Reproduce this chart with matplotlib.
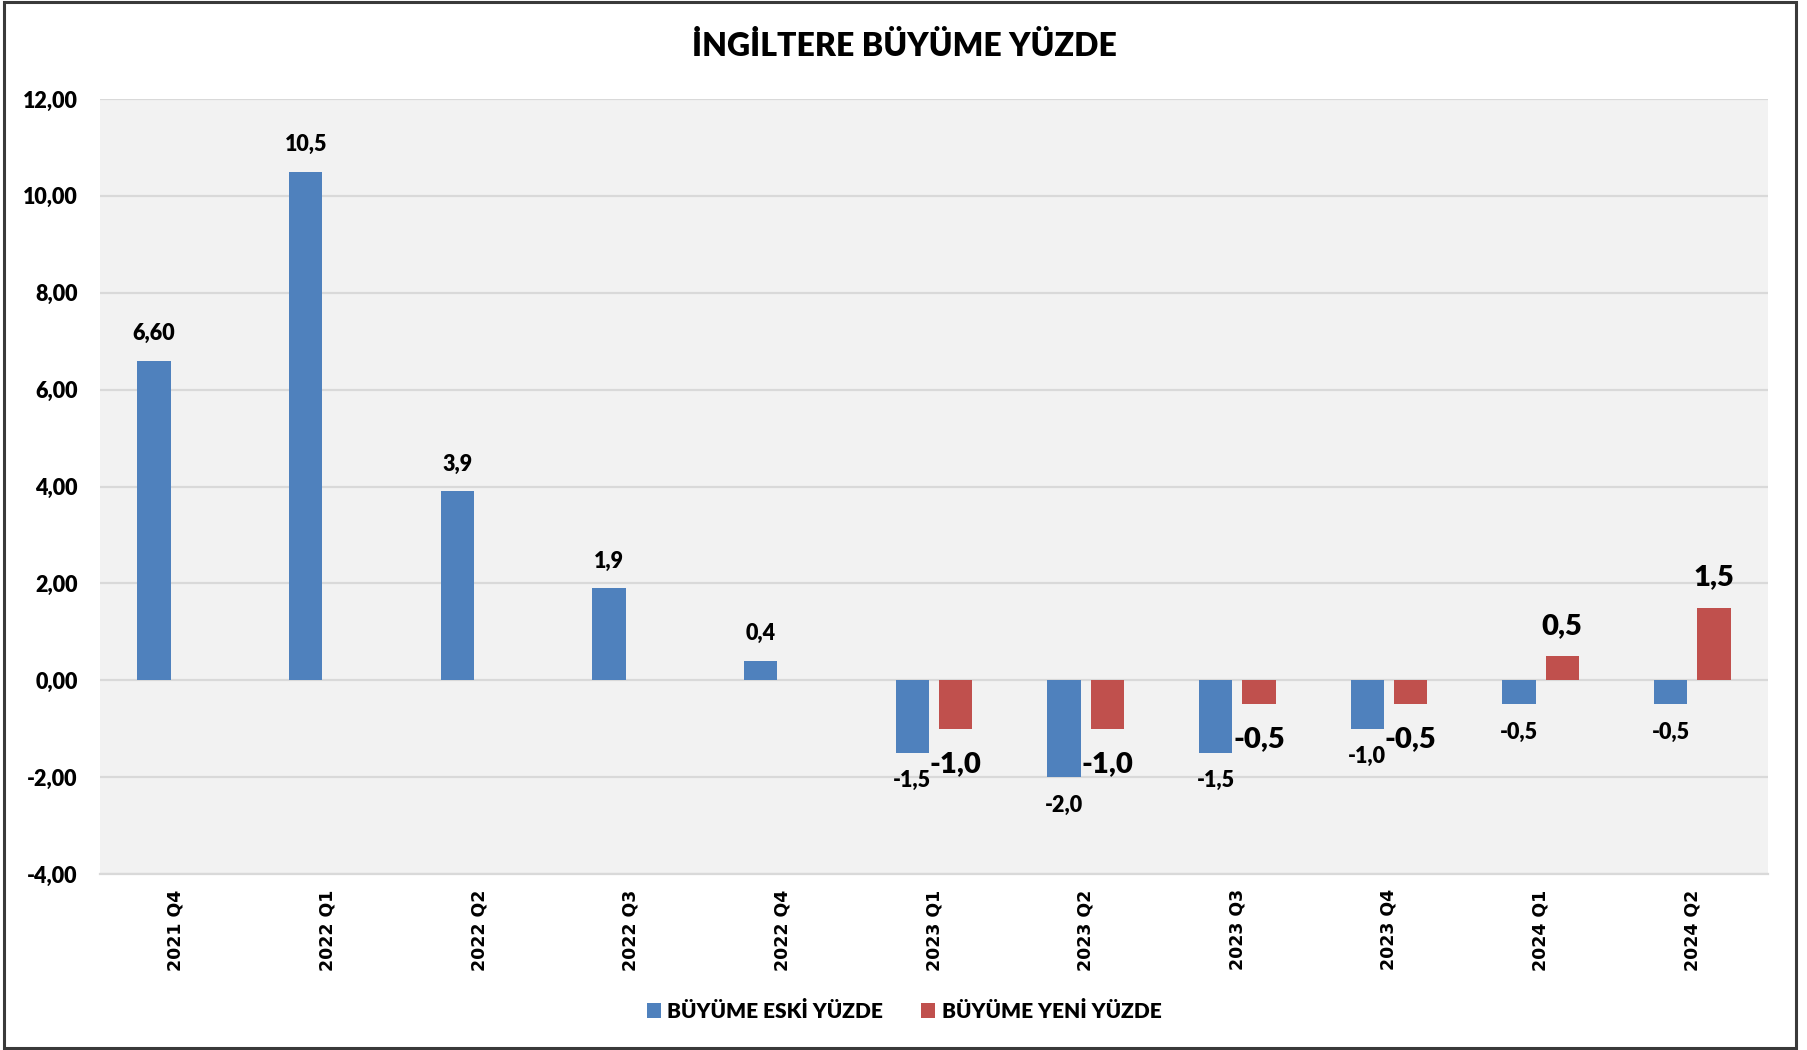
import matplotlib
matplotlib.use("Agg")
import matplotlib.pyplot as plt
import numpy as np
from matplotlib.patches import Rectangle

categories = ["2021 Q4", "2022 Q1", "2022 Q2", "2022 Q3", "2022 Q4", "2023 Q1",
              "2023 Q2", "2023 Q3", "2023 Q4", "2024 Q1", "2024 Q2"]
eski = [6.60, 10.5, 3.9, 1.9, 0.4, -1.5, -2.0, -1.5, -1.0, -0.5, -0.5]
eski_labels = ["6,60", "10,5", "3,9", "1,9", "0,4", "-1,5", "-2,0", "-1,5", "-1,0", "-0,5", "-0,5"]
yeni = [np.nan, np.nan, np.nan, np.nan, np.nan, -1.0, -1.0, -0.5, -0.5, 0.5, 1.5]
yeni_labels = ["", "", "", "", "", "-1,0", "-1,0", "-0,5", "-0,5", "0,5", "1,5"]
yticks = [-4, -2, 0, 2, 4, 6, 8, 10, 12]
ytick_labels = ["-4,00", "-2,00", "0,00", "2,00", "4,00", "6,00", "8,00", "10,00", "12,00"]
series_names = ["BÜYÜME ESKİ YÜZDE", "BÜYÜME YENİ YÜZDE"]
title = "İNGİLTERE BÜYÜME YÜZDE"

NARROW = ["Lato", "DejaVu Sans"]
WT = "heavy"
BLUE = "#4f81bd"
RED = "#c0504d"

fig = plt.figure(figsize=(18.08, 10.5), dpi=100)
ax = fig.add_axes([100/1808, 1-874/1050, (1768-100)/1808, (874-99)/1050])
ax.set_facecolor("#f2f2f2")

x = np.arange(len(categories))
w = 0.22
off = 0.143
ax.bar(x - off, eski, w, color=BLUE, zorder=3, label=series_names[0])
ax.bar(x + off, yeni, w, color=RED, zorder=3, label=series_names[1])

ax.set_xlim(-0.5, len(categories) - 0.5)
ax.set_ylim(-4, 12)
ax.set_yticks(yticks)
ax.set_yticklabels(ytick_labels, fontdict=dict(family=NARROW, weight=WT, size=15.5))
ax.set_xticks(x)
ax.set_xticklabels(categories, rotation=90, fontdict=dict(family="DejaVu Sans", weight="bold", size=12.5))
ax.tick_params(axis="both", length=0)
ax.tick_params(axis="y", pad=16)
ax.tick_params(axis="x", pad=11)
ax.grid(axis="y", color="#d9d9d9", linewidth=1.6, zorder=0)
for s in ["left", "right", "top"]:
    ax.spines[s].set_visible(False)
ax.spines["bottom"].set_color("#d9d9d9")
ax.spines["bottom"].set_linewidth(1.6)

for xi, v, lab in zip(x, eski, eski_labels):
    dy = 27 if v >= 0 else -28
    ax.annotate(lab, (xi - off, v), xytext=(0, dy), textcoords="offset pixels",
                ha="center", va="center", family=NARROW, weight=WT, size=15.5, zorder=5)
for xi, v, lab in zip(x, yeni, yeni_labels):
    if np.isnan(v):
        continue
    dy = 30 if v >= 0 else -35
    ax.annotate(lab, (xi + off, v), xytext=(0, dy), textcoords="offset pixels",
                ha="center", va="center", family=NARROW, weight=WT, size=21, zorder=5)

fig.text(0.5, 1 - 46/1050, title, ha="center", va="center", family=NARROW, weight=WT, size=23)

handles, labels = ax.get_legend_handles_labels()
fig.legend(handles, labels, loc="center", bbox_to_anchor=(0.5, 1 - 1011/1050), ncol=2, frameon=False,
           prop=dict(family=NARROW, weight=WT, size=15), handlelength=0.7, handleheight=0.7,
           handletextpad=0.3, columnspacing=1.8)

fig.patches.append(Rectangle((4/1808, 2/1050), (1796-4)/1808, (1048-2)/1050, transform=fig.transFigure,
                             fill=False, edgecolor="#3a3a3a", linewidth=2.2, figure=fig))

fig.savefig("out.png", dpi=100, facecolor="white")
